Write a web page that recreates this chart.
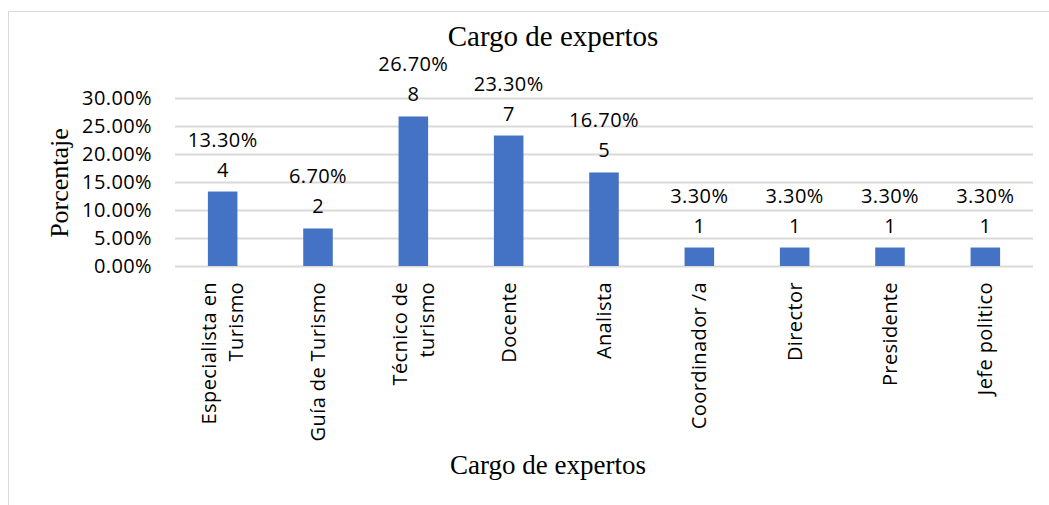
<!DOCTYPE html>
<html>
<head>
<meta charset="utf-8">
<script src="https://cdn.jsdelivr.net/npm/d3@7"></script>
<style>
  html, body { margin: 0; padding: 0; background: #ffffff; }
  svg { display: block; }
</style>
</head>
<body>
<div id="chart"></div>
<script>
const categories = [
  ["Especialista en", "Turismo"],
  ["Guía de Turismo"],
  ["Técnico de", "turismo"],
  ["Docente"],
  ["Analista"],
  ["Coordinador /a"],
  ["Director"],
  ["Presidente"],
  ["Jefe politico"],
];
const percentages = [13.3, 6.7, 26.7, 23.3, 16.7, 3.3, 3.3, 3.3, 3.3];
const counts = [4, 2, 8, 7, 5, 1, 1, 1, 1];
const yTicks = [0, 5, 10, 15, 20, 25, 30];

const width = 1049;
const height = 505;
const margin = { top: 98, right: 16, bottom: 239, left: 175 };

const svg = d3
  .select("#chart")
  .append("svg")
  .attr("width", width)
  .attr("height", height);

// chart frame (only left and top edges visible in the crop)
svg
  .append("path")
  .attr("d", `M8.5,${height} V11.5 H${width}`)
  .attr("fill", "none")
  .attr("stroke", "#d9d9d9")
  .attr("stroke-width", 1);

const x = d3
  .scaleBand()
  .domain(d3.range(categories.length))
  .range([margin.left, width - margin.right])
  .paddingInner(0.69)
  .paddingOuter(0.345);

const y = d3
  .scaleLinear()
  .domain([0, 30])
  .range([height - margin.bottom, margin.top]);

const sansFont = "'Open Sans', Lato, sans-serif";
const serifFont = "'Liberation Serif', 'Times New Roman', serif";
const sansSize = "20px";
const sansSpacing = "0.4px";

// gridlines
svg
  .append("g")
  .selectAll("line")
  .data(yTicks)
  .enter()
  .append("line")
  .attr("x1", margin.left)
  .attr("x2", width - margin.right)
  .attr("y1", (d) => y(d) + 0.5)
  .attr("y2", (d) => y(d) + 0.5)
  .attr("stroke", "#d9d9d9")
  .attr("stroke-width", 2);

// y tick labels
svg
  .append("g")
  .selectAll("text")
  .data(yTicks)
  .enter()
  .append("text")
  .attr("x", 152)
  .attr("y", (d) => y(d))
  .attr("dy", "0.35em")
  .attr("text-anchor", "end")
  .style("font-family", sansFont)
  .style("font-size", sansSize)
  .style("letter-spacing", sansSpacing)
  .style("fill", "#000")
  .text((d) => d.toFixed(2) + "%");

// bars
svg
  .append("g")
  .selectAll("rect")
  .data(percentages)
  .enter()
  .append("rect")
  .attr("x", (d, i) => x(i))
  .attr("y", (d) => y(d))
  .attr("width", x.bandwidth())
  .attr("height", (d) => y(0) - y(d))
  .attr("fill", "#4472c4");

// data labels: percentage over count
const labels = svg
  .append("g")
  .selectAll("g")
  .data(percentages)
  .enter()
  .append("g")
  .attr(
    "transform",
    (d, i) => `translate(${x(i) + x.bandwidth() / 2}, ${y(d)})`,
  );

labels
  .append("text")
  .attr("y", -52)
  .attr("dy", "0.35em")
  .attr("text-anchor", "middle")
  .style("font-family", sansFont)
  .style("font-size", sansSize)
  .style("letter-spacing", sansSpacing)
  .text((d) => d.toFixed(2) + "%");

labels
  .append("text")
  .attr("y", -22)
  .attr("dy", "0.35em")
  .attr("text-anchor", "middle")
  .style("font-family", sansFont)
  .style("font-size", sansSize)
  .text((d, i) => counts[i]);

// category labels, rotated
const catGroups = svg
  .append("g")
  .selectAll("g")
  .data(categories)
  .enter()
  .append("g")
  .attr(
    "transform",
    (d, i) => `translate(${x(i) + x.bandwidth() / 2}, 282) rotate(-90)`,
  );

catGroups
  .selectAll("text")
  .data((d) => d.map((line, k) => ({ line, k, n: d.length })))
  .enter()
  .append("text")
  .attr("x", 0)
  .attr("y", (d) => (d.k - (d.n - 1) / 2) * 27)
  .attr("dy", "0.35em")
  .attr("text-anchor", "end")
  .style("font-family", sansFont)
  .style("font-size", sansSize)
  .style("letter-spacing", sansSpacing)
  .text((d) => d.line);

// titles
svg
  .append("text")
  .attr("x", 553)
  .attr("y", 46)
  .attr("text-anchor", "middle")
  .style("font-family", serifFont)
  .style("font-size", "29px")
  .text("Cargo de expertos");

svg
  .append("text")
  .attr("x", 548)
  .attr("y", 474)
  .attr("text-anchor", "middle")
  .style("font-family", serifFont)
  .style("font-size", "27px")
  .text("Cargo de expertos");

svg
  .append("text")
  .attr("transform", "translate(68, 183) rotate(-90)")
  .attr("text-anchor", "middle")
  .style("font-family", serifFont)
  .style("font-size", "26px")
  .text("Porcentaje");
</script>
</body>
</html>
